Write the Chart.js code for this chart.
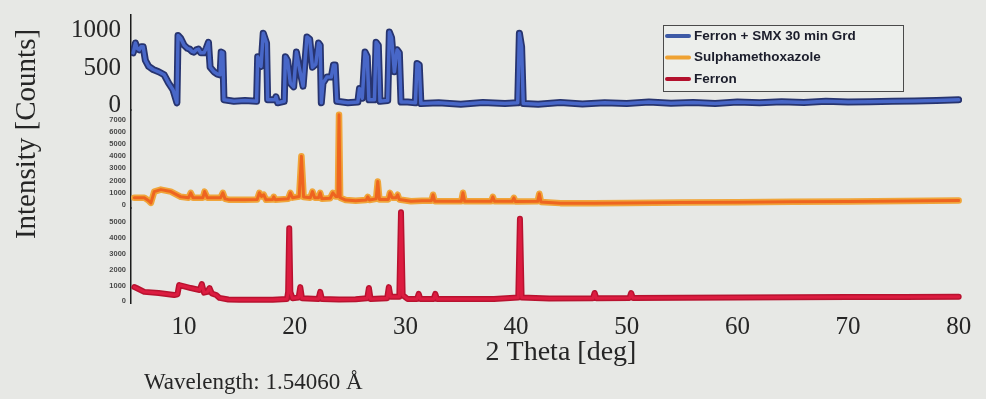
<!DOCTYPE html>
<html>
<head>
<meta charset="utf-8">
<script src="https://cdn.jsdelivr.net/npm/chart.js@4.4.1/dist/chart.umd.min.js"></script>
<style>
  html, body { margin: 0; padding: 0; background: #e7e8e5; }
  #wrap { position: relative; width: 986px; height: 399px; }
</style>
</head>
<body>
<div id="wrap"><canvas id="xrd" width="986" height="399"></canvas></div>
<script>
// X-ray powder diffraction patterns, 2θ in degrees vs. intensity in counts

// Ferron + SMX 30 min Grd
const mixAngle = [5.4, 5.6, 5.75, 5.95, 6.1, 6.3, 6.5, 6.8, 7.2, 7.7, 8.2, 8.6, 9.0, 9.35, 9.45, 9.7, 10.0, 10.3, 10.5, 10.7,
  10.9, 11.1, 11.3, 11.5, 11.8, 12.0, 12.2, 12.35, 12.7, 13.0, 13.25, 13.35, 13.5, 13.6, 14.5, 15.5, 16.55, 16.65, 16.95, 17.15,
  17.45, 17.55, 18.2, 18.3, 18.45, 19.05, 19.15, 19.35, 19.6, 19.9, 20.15, 20.4, 20.75, 21.1, 21.35, 21.6, 21.9, 22.15, 22.3, 22.4,
  22.55, 22.9, 23.3, 23.5, 23.65, 23.8, 24.8, 25.7, 25.85, 26.1, 26.35, 26.55, 26.7, 27.2, 27.35, 27.55, 27.7, 28.4, 28.55, 28.75,
  29.0, 29.25, 29.45, 29.6, 30.2, 30.9, 31.05, 31.25, 31.4, 33, 35, 37, 39, 40.15, 40.3, 40.5, 40.65, 42, 44, 46,
  48, 50, 52, 54, 56, 58, 60, 62, 64, 66, 68, 70, 72, 74, 76, 78, 80];
const mixCounts = [700, 830, 760, 740, 780, 780, 600, 520, 480, 450, 410, 300, 210, 40, 930, 890, 800, 760, 750, 720,
  710, 740, 750, 700, 700, 760, 840, 510, 450, 420, 410, 710, 700, 80, 60, 70, 60, 650, 520, 960,
  830, 80, 80, 120, 40, 60, 650, 600, 300, 250, 710, 510, 260, 910, 880, 510, 550, 830, 800, 40,
  300, 380, 380, 540, 540, 60, 40, 50, 230, 100, 710, 650, 80, 80, 840, 800, 60, 70, 975, 900,
  450, 740, 700, 50, 50, 40, 560, 540, 30, 40, 20, 45, 30, 40, 960, 780, 30, 20, 45, 25,
  40, 30, 50, 35, 45, 30, 50, 40, 55, 45, 60, 50, 55, 60, 65, 70, 80];

// Sulphamethoxazole
const sulfaAngle = [5.5, 6.4, 6.8, 7.0, 7.3, 7.9, 8.8, 9.7, 10.4, 10.6, 10.8, 11.7, 11.85, 12.1, 13.3, 13.5, 13.7, 14.1, 15.4, 16.6,
  16.8, 17.0, 17.2, 17.4, 18.0, 18.1, 18.25, 19.4, 19.6, 19.8, 20.4, 20.6, 20.8, 21.4, 21.6, 21.8, 22.15, 22.3, 22.45, 23.2,
  23.45, 23.7, 23.9, 24.0, 24.1, 24.6, 25.5, 26.45, 26.6, 26.75, 27.35, 27.5, 27.65, 28.45, 28.6, 28.8, 29.15, 29.3, 29.45, 30.5,
  31.5, 32.35, 32.5, 32.65, 35.05, 35.2, 35.35, 37.75, 37.9, 38.05, 39.65, 39.8, 39.95, 41.95, 42.1, 42.25, 44, 47, 50, 55,
  60, 65, 70, 75, 80];
const sulfaCounts = [590, 600, 350, 170, 1100, 1260, 1100, 670, 600, 1000, 600, 600, 1100, 600, 600, 1000, 500, 420, 420, 450,
  1000, 700, 840, 420, 450, 670, 420, 500, 1000, 600, 700, 4000, 650, 600, 1100, 600, 600, 1000, 500, 550,
  1000, 700, 700, 7400, 600, 400, 350, 400, 670, 400, 500, 1930, 450, 450, 1000, 600, 600, 840, 450, 300,
  350, 350, 840, 300, 300, 1000, 300, 300, 670, 300, 300, 590, 280, 300, 920, 250, 150, 150, 170, 200,
  230, 260, 290, 320, 360];

// Ferron
const ferronAngle = [5.5, 5.7, 6.4, 7.7, 9.1, 9.4, 9.55, 10.0, 10.6, 11.0, 11.4, 11.6, 11.8, 12.1, 12.3, 12.5, 12.9, 13.2, 14, 15,
  16, 17, 18, 19.3, 19.4, 19.5, 19.6, 19.8, 20.35, 20.5, 20.65, 22.15, 22.3, 22.45, 24, 25.5, 26.55, 26.7, 26.85, 28.35,
  28.5, 28.65, 29.45, 29.6, 29.75, 30.2, 31.05, 31.2, 31.35, 32.55, 32.7, 32.85, 35, 38, 40.2, 40.35, 40.5, 43, 46.95, 47.1,
  47.25, 50.25, 50.4, 50.55, 55, 60, 65, 70, 75, 80];
const ferronCounts = [900, 840, 600, 530, 400, 450, 1030, 950, 840, 780, 720, 1090, 550, 600, 840, 500, 400, 220, 120, 100,
  110, 100, 110, 150, 600, 4600, 600, 200, 250, 900, 200, 150, 600, 150, 120, 130, 200, 840, 150, 200,
  900, 300, 300, 5600, 400, 150, 150, 470, 150, 150, 470, 150, 150, 150, 250, 5200, 250, 180, 200, 530,
  200, 220, 530, 220, 230, 250, 260, 270, 280, 300];

// Axis tick values
const angleTicks = [10, 20, 30, 40, 50, 60, 70, 80];
const mixTicks = [0, 500, 1000];
const sulfaTicks = [0, 1000, 2000, 3000, 4000, 5000, 6000, 7000];
const ferronTicks = [0, 1000, 2000, 3000, 4000, 5000];

const seriesNames = ['Ferron + SMX 30 min Grd', 'Sulphamethoxazole', 'Ferron'];

const toPoints = (xs, ys) => xs.map((x, i) => ({ x: x, y: ys[i] }));
const fixedTicks = (values) => (scale) => { scale.ticks = values.map(v => ({ value: v })); };

const serif = 'Liberation Serif, Times New Roman, serif';
const ink = '#262626';

function traceSet(label, xs, ys, axis, color, width, order, inLegend, swatch) {
  return {
    label: label,
    data: toPoints(xs, ys),
    yAxisID: axis,
    borderColor: color,
    borderWidth: width,
    pointRadius: 0,
    tension: 0,
    fill: false,
    borderJoinStyle: 'round',
    borderCapStyle: 'round',
    order: order,
    inLegend: inLegend,
    swatch: swatch
  };
}

const datasets = [
  traceSet(seriesNames[0], mixAngle, mixCounts, 'yMix', '#4867c8', 3.5, 1, true, '#3d5aa6'),
  traceSet(seriesNames[1], sulfaAngle, sulfaCounts, 'ySulfa', '#ee6420', 3, 1, true, '#efa232'),
  traceSet(seriesNames[2], ferronAngle, ferronCounts, 'yFerron', '#dc1c40', 3, 1, true, '#b3112d'),
  traceSet('', mixAngle, mixCounts, 'yMix', '#27346f', 7, 2, false),
  traceSet('', sulfaAngle, sulfaCounts, 'ySulfa', '#f0a53a', 6.5, 2, false),
  traceSet('', ferronAngle, ferronCounts, 'yFerron', '#b8122f', 6, 2, false)
];

// Each y axis takes the same fixed width and no extra label overhang
const fitLeft = (s) => { s.width = 131; s.paddingTop = 0; s.paddingBottom = 0; };

function smallAxis(ticks, min, max, weight) {
  return {
    type: 'linear',
    position: 'left',
    stack: 'xrd',
    stackWeight: weight,
    min: min,
    max: max,
    afterBuildTicks: fixedTicks(ticks),
    afterFit: fitLeft,
    grid: { display: false, drawTicks: false },
    border: { display: true, color: '#1c1c1c', width: 1.5 },
    ticks: {
      autoSkip: false,
      padding: 5,
      color: '#4a4a4a',
      font: { family: 'Liberation Sans, Arial, sans-serif', size: 7.5, weight: 'bold' },
      callback: (v) => String(v)
    }
  };
}

// Free-standing texts: axis titles, wavelength note and the legend box
const decorations = {
  id: 'decorations',
  afterDraw(chart) {
    const ctx = chart.ctx;
    ctx.save();
    ctx.fillStyle = ink;
    ctx.font = '29px ' + serif;
    ctx.textAlign = 'center';
    ctx.textBaseline = 'middle';
    ctx.translate(27, 134);
    ctx.rotate(-Math.PI / 2);
    ctx.fillText('Intensity [Counts]', 0, 0);
    ctx.restore();

    ctx.save();
    ctx.fillStyle = ink;
    ctx.textBaseline = 'middle';
    ctx.textAlign = 'center';
    ctx.font = '28px ' + serif;
    ctx.fillText('2 Theta [deg]', 561, 353);
    ctx.textAlign = 'left';
    ctx.font = '23px ' + serif;
    ctx.fillText('Wavelength: 1.54060 Å', 144, 383);
    ctx.restore();

    const entries = chart.data.datasets.filter(d => d.inLegend);
    const box = { x: 663, y: 25, w: 240, h: 66 };
    ctx.save();
    ctx.fillStyle = '#eceeeb';
    ctx.strokeStyle = '#4a4a4a';
    ctx.lineWidth = 1;
    ctx.fillRect(box.x, box.y, box.w, box.h);
    ctx.strokeRect(box.x + 0.5, box.y + 0.5, box.w, box.h);
    ctx.font = 'bold 13.5px Liberation Sans, Arial, sans-serif';
    ctx.textBaseline = 'middle';
    ctx.textAlign = 'left';
    entries.forEach((d, i) => {
      const y = box.y + 11 + i * 21.5;
      ctx.strokeStyle = d.swatch;
      ctx.lineWidth = 4;
      ctx.lineCap = 'round';
      ctx.beginPath();
      ctx.moveTo(667, y);
      ctx.lineTo(689, y);
      ctx.stroke();
      ctx.fillStyle = '#1b1d2b';
      ctx.fillText(d.label, 694, y);
    });
    ctx.restore();
  }
};

new Chart(document.getElementById('xrd'), {
  type: 'line',
  data: { datasets: datasets },
  plugins: [decorations],
  options: {
    responsive: false,
    animation: false,
    devicePixelRatio: 1,
    layout: { padding: { top: 15, right: 24, bottom: 0, left: 0 } },
    plugins: { legend: { display: false }, tooltip: { enabled: false } },
    scales: {
      x: {
        type: 'linear',
        position: 'bottom',
        min: 5.2,
        max: 80.3,
        afterBuildTicks: fixedTicks(angleTicks),
        afterFit: (s) => { s.height = 96; s.paddingLeft = 0; s.paddingRight = 0; },
        grid: { display: false, drawTicks: false },
        border: { display: false },
        ticks: {
          autoSkip: false,
          padding: 9,
          maxRotation: 0,
          color: ink,
          font: { family: serif, size: 25 },
          callback: (v) => String(v)
        }
      },
      yFerron: smallAxis(ferronTicks, -100, 5875, 95),
      ySulfa: smallAxis(sulfaTicks, -250, 7800, 98),
      yMix: {
        type: 'linear',
        position: 'left',
        stack: 'xrd',
        stackWeight: 95,
        min: -55,
        max: 1200,
        afterBuildTicks: fixedTicks(mixTicks),
        afterFit: fitLeft,
        grid: { display: false, drawTicks: false },
        border: { display: true, color: '#1c1c1c', width: 1.5 },
        ticks: {
          autoSkip: false,
          padding: 10,
          color: ink,
          font: { family: serif, size: 25 },
          callback: (v) => String(v)
        }
      }
    }
  }
});
</script>
</body>
</html>
